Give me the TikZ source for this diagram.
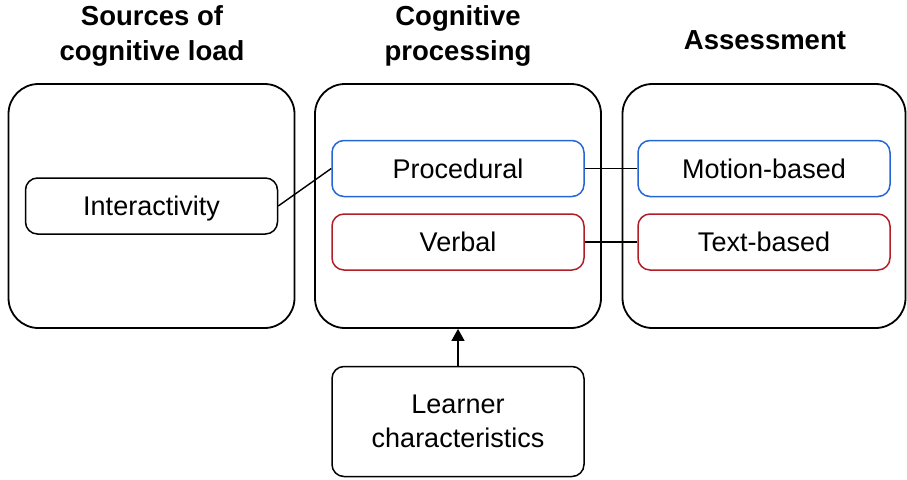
\documentclass[tikz,border=0pt]{standalone}
\usepackage{fontspec}
\setmainfont{Liberation Sans}
\usetikzlibrary{arrows.meta}
\definecolor{procblue}{RGB}{36,102,214}
\definecolor{verbred}{RGB}{178,30,40}
\tikzset{
  panel/.style={draw=black, line width=1.8pt, rounded corners=30pt, minimum width=286pt, minimum height=244pt, inner sep=0pt},
  item/.style={draw=black, line width=1.5pt, rounded corners=12pt, minimum width=252pt, minimum height=56pt, inner sep=0pt, align=center, font=\fontsize{27}{34}\selectfont},
  oneline/.style={text height=19.5pt, text depth=0pt},
  heading/.style={inner sep=0pt, align=center, font=\fontsize{27.5}{35}\selectfont\bfseries},
  link/.style={draw=black, line width=1.4pt}
}
\begin{document}
\begin{tikzpicture}[x=1pt, y=-1pt]
  \useasboundingbox (0,0) rectangle (907,479);

  % column headings
  \node[heading] (hsrc) at (152,36) {Sources of\\cognitive load};
  \node[heading] (hcog) at (458,36) {Cognitive\\processing};
  \node[heading] (hass) at (765,40) {Assessment};

  % outer panels
  \node[panel] (src) at (151.5,206) {};
  \node[panel] (cog) at (458,206) {};
  \node[panel, minimum width=283pt] (ass) at (764,206) {};

  % inner items
  \node[item, oneline] (inter) at (151.5,206) {Interactivity};
  \node[item, oneline, draw=procblue] (proc) at (458,168.5) {Procedural};
  \node[item, oneline, draw=verbred] (verb) at (458,242) {Verbal};
  \node[item, oneline, draw=procblue] (motion) at (764,168.5) {Motion-based};
  \node[item, oneline, draw=verbred] (text) at (764,242) {Text-based};
  \node[item, minimum height=110pt] (learner) at (458,421.5) {Learner\\characteristics};

  % connectors
  \draw[link] (inter.east) -- (proc.west);
  \draw[link] (proc.east) -- (motion.west);
  \draw[link] (verb.east) -- (text.west);
  \draw[link, -{Triangle[length=12pt, width=13pt]}] (learner.north) -- (cog.south);
\end{tikzpicture}
\end{document}
